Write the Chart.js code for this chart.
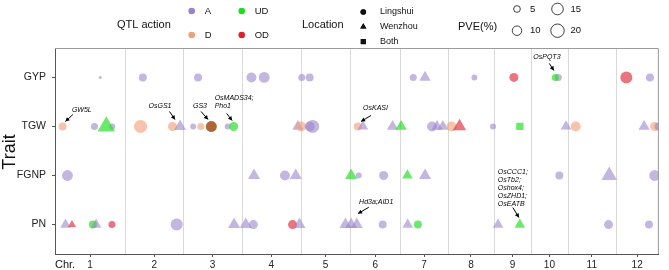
<!DOCTYPE html>
<html>
<head>
<meta charset="utf-8">
<script src="https://cdn.jsdelivr.net/npm/chart.js@4.4.1/dist/chart.umd.min.js"></script>
<style>
  html, body { margin: 0; padding: 0; background: #fff; }
</style>
</head>
<body>
<canvas id="graficoQtl" width="669" height="270"></canvas>
<script>
// Traits, de baixo para cima no eixo y
const traits = ['PN', 'FGNP', 'TGW', 'GYP'];

// Cromossomos e comprimentos (Mb)
const chrNames = ['1', '2', '3', '4', '5', '6', '7', '8', '9', '10', '11', '12'];
const chrLengths = [43.3, 36.0, 36.0, 36.6, 30.5, 31.1, 29.2, 28.7, 22.6, 23.1, 29.3, 26.8];

// Legendas
const actions = ['A', 'D', 'UD', 'OD'];
const locations = ['Lingshui', 'Wenzhou', 'Both'];
const pveKeys = [5, 10, 15, 20];

// QTLs: [cromossomo, posição (Mb), ação, local (L/W/B), PVE (%)]
const qtlGYP = [
  [1, 28.0, 'A', 'L', 1],
  [2, 11.0, 'A', 'L', 7],
  [3, 9.1, 'A', 'L', 7],
  [4, 6.1, 'A', 'L', 11],
  [4, 14.0, 'A', 'L', 13],
  [5, 0.6, 'A', 'L', 5.5],
  [5, 5.5, 'A', 'L', 7],
  [7, 7.9, 'A', 'L', 5.5],
  [7, 15.2, 'A', 'W', 8],
  [8, 16.5, 'A', 'L', 4],
  [9, 12.2, 'OD', 'L', 9],
  [10, 17.1, 'A', 'L', 5.5],
  [10, 15.2, 'UD', 'L', 5.5],
  [12, 6.7, 'OD', 'L', 16],
  [12, 21.3, 'A', 'L', 7]
];
const qtlTGW = [
  [1, 4.7, 'D', 'L', 7],
  [1, 24.4, 'A', 'L', 5.5],
  [1, 35.4, 'A', 'L', 4],
  [1, 31.7, 'UD', 'W', 19],
  [2, 9.6, 'D', 'L', 19],
  [2, 29.3, 'D', 'L', 9],
  [2, 34.0, 'A', 'W', 9],
  [3, 6.1, 'A', 'L', 4],
  [3, 10.8, 'D', 'L', 5.5],
  [3, 17.3, 'D', 'L', 13],
  [3, 17.3, 'UD', 'L', 13],
  [3, 17.3, 'OD', 'L', 13],
  [3, 27.4, 'A', 'L', 4],
  [3, 31.1, 'UD', 'L', 9],
  [4, 34.8, 'A', 'W', 8],
  [5, 0.2, 'D', 'L', 11],
  [5, 5.5, 'A', 'L', 11],
  [5, 7.3, 'A', 'L', 19],
  [6, 4.7, 'D', 'L', 7],
  [6, 7.9, 'A', 'W', 7],
  [6, 26.2, 'A', 'W', 8],
  [7, 0.4, 'UD', 'W', 8],
  [7, 19.5, 'A', 'L', 11],
  [7, 22.6, 'A', 'W', 8],
  [7, 26.2, 'A', 'W', 8],
  [8, 2.4, 'D', 'L', 11],
  [8, 7.3, 'OD', 'W', 11],
  [8, 28.0, 'A', 'L', 4],
  [9, 15.9, 'UD', 'B', 7],
  [10, 21.8, 'A', 'W', 7],
  [11, 4.7, 'D', 'L', 11],
  [12, 17.7, 'A', 'W', 8],
  [12, 24.2, 'D', 'L', 9],
  [12, 26.6, 'A', 'L', 7]
];
const qtlFGNP = [
  [1, 7.7, 'A', 'L', 13],
  [4, 7.7, 'A', 'W', 9],
  [4, 26.8, 'A', 'L', 11],
  [4, 33.5, 'A', 'W', 9],
  [6, 0.6, 'UD', 'W', 9],
  [6, 5.3, 'A', 'L', 4],
  [6, 20.7, 'A', 'L', 9],
  [7, 4.3, 'UD', 'W', 7],
  [7, 15.2, 'A', 'W', 9],
  [10, 17.7, 'A', 'L', 7],
  [11, 25.4, 'A', 'W', 15],
  [12, 24.2, 'A', 'L', 13]
];
const qtlPN = [
  [1, 6.5, 'A', 'W', 7],
  [1, 10.5, 'OD', 'W', 4],
  [1, 23.4, 'UD', 'L', 7],
  [1, 25.4, 'A', 'W', 7],
  [1, 35.2, 'OD', 'L', 5.5],
  [2, 31.9, 'A', 'L', 16],
  [3, 31.4, 'A', 'W', 9],
  [4, 2.6, 'A', 'W', 9],
  [4, 7.3, 'A', 'L', 9],
  [4, 31.5, 'OD', 'L', 9],
  [4, 35.8, 'A', 'W', 9],
  [5, 27.6, 'A', 'W', 9],
  [6, 0.6, 'A', 'W', 9],
  [6, 4.1, 'A', 'W', 9],
  [6, 20.1, 'A', 'L', 7],
  [7, 4.5, 'A', 'W', 7],
  [7, 10.8, 'UD', 'L', 7],
  [9, 2.4, 'A', 'W', 7],
  [9, 15.9, 'UD', 'W', 7],
  [11, 25.0, 'A', 'L', 9],
  [12, 20.7, 'A', 'L', 7]
];

// Genes candidatos anotados
const geneNotes = [
  { lines: ['GW5L'], trait: 'TGW', chr: 1, pos: 4.7 },
  { lines: ['OsGS1'], trait: 'TGW', chr: 2, pos: 29.3 },
  { lines: ['GS3'], trait: 'TGW', chr: 3, pos: 17.3 },
  { lines: ['OsMADS34;', 'Pho1'], trait: 'TGW', chr: 3, pos: 31.1 },
  { lines: ['OsKASI'], trait: 'TGW', chr: 6, pos: 4.7 },
  { lines: ['OsPQT3'], trait: 'GYP', chr: 10, pos: 15.2 },
  { lines: ['OsCCC1;', 'OsTb2;', 'Oshox4;', 'OsZHD1;', 'OsEATB'], trait: 'PN', chr: 9, pos: 15.9 },
  { lines: ['Hd3a;AID1'], trait: 'PN', chr: 6, pos: 4.1 }
];
// posição do texto e da seta em relação ao ponto (px)
const noteLayout = [
  { align: 'left', tx: 9.3, ty: -16, ax: 10.3, ay: -12, bx: 2.8, by: -5 },
  { align: 'right', tx: -1, ty: -20, ax: -3, ay: -15, bx: 2.5, by: -7 },
  { align: 'left', tx: -18.3, ty: -20, ax: -10.3, ay: -15, bx: -3.3, by: -7 },
  { align: 'left', tx: -19, ty: -28.7, ax: -7, ay: -13, bx: -1.5, by: -6 },
  { align: 'left', tx: 5.3, ty: -18, ax: 13.3, ay: -11, bx: 3.3, by: -5 },
  { align: 'left', tx: -22, ty: -20, ax: -6, ay: -14, bx: -1.5, by: -7 },
  { align: 'left', tx: -22, ty: -53, ax: -7, ay: -17, bx: -1, by: -7 },
  { align: 'left', tx: 2.3, ty: -22.3, ax: 12, ay: -17.3, bx: 1.3, by: -11 }
];

const fonte = '"Liberation Sans", Arial, sans-serif';
const corCheia = { A: 'rgb(152,130,202)', D: 'rgb(242,158,118)', UD: 'rgb(30,222,30)', OD: 'rgb(222,32,46)' };
const corPonto = { A: 'rgba(152,130,202,0.58)', D: 'rgba(242,158,118,0.62)', UD: 'rgba(30,222,30,0.66)', OD: 'rgba(222,32,46,0.62)' };
const formas = { L: 'circle', W: 'triangle', B: 'rect' };

// posições acumuladas dos cromossomos
const chrStarts = [];
chrLengths.reduce((acc, len) => { chrStarts.push(acc); return acc + len; }, 0);
const genomeLength = chrLengths.reduce((a, b) => a + b, 0);
const chrCenters = chrLengths.map((len, i) => chrStarts[i] + len / 2);

function raioCirculo(pve) { return 1.5 * Math.sqrt(pve); }
function raioPonto(q) {
  const base = raioCirculo(q[4]);
  if (q[3] === 'W') return base * 1.55;
  if (q[3] === 'B') return base * 1.3;
  return base;
}

function montarDataset(nome, lista) {
  const yv = traits.indexOf(nome) + 1;
  return {
    label: nome,
    data: lista.map(q => ({ x: chrStarts[q[0] - 1] + q[1], y: yv })),
    backgroundColor: lista.map(q => corPonto[q[2]]),
    pointStyle: lista.map(q => formas[q[3]]),
    pointRadius: lista.map(raioPonto),
    pointHoverRadius: lista.map(raioPonto),
    borderWidth: 0,
    pointBorderWidth: 0
  };
}

function seta(ctx, x1, y1, x2, y2) {
  ctx.beginPath();
  ctx.moveTo(x1, y1);
  ctx.lineTo(x2, y2);
  ctx.stroke();
  const ang = Math.atan2(y2 - y1, x2 - x1);
  const len = 4, larg = 2.2;
  ctx.beginPath();
  ctx.moveTo(x2, y2);
  ctx.lineTo(x2 - len * Math.cos(ang) + larg * Math.sin(ang), y2 - len * Math.sin(ang) - larg * Math.cos(ang));
  ctx.lineTo(x2 - len * Math.cos(ang) - larg * Math.sin(ang), y2 - len * Math.sin(ang) + larg * Math.cos(ang));
  ctx.closePath();
  ctx.fill();
}

const extras = {
  id: 'extras',
  beforeDatasetsDraw(chart) {
    const { ctx, chartArea: a, scales: { x } } = chart;
    ctx.save();
    ctx.strokeStyle = '#d9d9d9';
    ctx.lineWidth = 1;
    chrStarts.slice(1).forEach(b => {
      const px = Math.round(x.getPixelForValue(b)) + 0.5;
      ctx.beginPath();
      ctx.moveTo(px, a.top);
      ctx.lineTo(px, a.bottom);
      ctx.stroke();
    });
    ctx.restore();
  },
  afterDatasetsDraw(chart) {
    const { ctx, scales: { x, y } } = chart;
    ctx.save();
    ctx.strokeStyle = '#000';
    ctx.fillStyle = '#000';
    ctx.lineWidth = 1;
    ctx.font = 'italic 7px ' + fonte;
    ctx.textBaseline = 'middle';
    geneNotes.forEach((g, i) => {
      const l = noteLayout[i];
      const px = x.getPixelForValue(chrStarts[g.chr - 1] + g.pos);
      const py = y.getPixelForValue(traits.indexOf(g.trait) + 1);
      ctx.textAlign = l.align;
      g.lines.forEach((t, k) => ctx.fillText(t, px + l.tx, py + l.ty + k * 8));
      seta(ctx, px + l.ax, py + l.ay, px + l.bx, py + l.by);
    });
    ctx.restore();
  },
  afterDraw(chart) {
    const { ctx, chartArea: a } = chart;
    ctx.save();
    // moldura
    ctx.strokeStyle = '#9a9a9a';
    ctx.lineWidth = 1;
    ctx.beginPath();
    ctx.moveTo(a.left, a.top + 0.5);
    ctx.lineTo(a.right - 0.5, a.top + 0.5);
    ctx.lineTo(a.right - 0.5, a.bottom);
    ctx.stroke();

    // títulos dos eixos
    ctx.fillStyle = '#111';
    ctx.textBaseline = 'middle';
    ctx.textAlign = 'left';
    ctx.font = '11px ' + fonte;
    ctx.fillText('Chr.', a.left, 265);
    ctx.save();
    ctx.translate(10, 152);
    ctx.rotate(-Math.PI / 2);
    ctx.textAlign = 'center';
    ctx.font = '18px ' + fonte;
    ctx.fillText('Trait', 0, 0);
    ctx.restore();

    // legenda: títulos
    ctx.font = '11px ' + fonte;
    ctx.fillText('QTL action', 117, 25);
    ctx.fillText('Location', 302, 25);
    ctx.fillText('PVE(%)', 458, 27);

    ctx.font = '9.5px ' + fonte;
    actions.forEach((act, i) => {
      const cx = 191.7 + Math.floor(i / 2) * 50;
      const cy = 11 + (i % 2) * 24;
      ctx.fillStyle = corCheia[act];
      ctx.beginPath();
      ctx.arc(cx, cy, 3.3, 0, Math.PI * 2);
      ctx.fill();
      ctx.fillStyle = '#111';
      ctx.fillText(act, cx + 13, cy);
    });

    // legenda: Location
    ctx.font = '9px ' + fonte;
    locations.forEach((loc, i) => {
      const cy = 12 + i * 14.8;
      const forma = formas[['L', 'W', 'B'][i]];
      Chart.helpers.drawPoint(ctx, { pointStyle: forma, radius: forma === 'circle' ? 2.8 : 3.6, borderWidth: 0, rotation: 0 }, 363.3, cy);
      ctx.fillStyle = '#111';
      ctx.fill();
      ctx.fillText(loc, 380, cy);
    });

    // legenda: PVE
    ctx.font = '9.5px ' + fonte;
    ctx.strokeStyle = '#111';
    ctx.lineWidth = 0.8;
    pveKeys.forEach((p, i) => {
      const cx = 517 + Math.floor(i / 2) * 40.5;
      const cy = 9 + (i % 2) * 21.7;
      ctx.beginPath();
      ctx.arc(cx, cy, raioCirculo(p), 0, Math.PI * 2);
      ctx.stroke();
      ctx.fillStyle = '#111';
      ctx.fillText(String(p), cx + 13, cy);
    });
    ctx.restore();
  }
};

const contexto = document.getElementById('graficoQtl').getContext('2d');
const graficoQtl = new Chart(contexto, {
  type: 'scatter',
  data: {
    datasets: [
      montarDataset('GYP', qtlGYP),
      montarDataset('TGW', qtlTGW),
      montarDataset('FGNP', qtlFGNP),
      montarDataset('PN', qtlPN)
    ]
  },
  options: {
    responsive: false,
    animation: false,
    layout: { padding: { top: 48, right: 2, left: 0, bottom: 0 } },
    scales: {
      x: {
        type: 'linear',
        min: 0,
        max: genomeLength,
        afterFit: s => { s.height = 16; },
        afterBuildTicks: s => { s.ticks = chrCenters.map(v => ({ value: v })); },
        ticks: {
          autoSkip: false,
          maxRotation: 0,
          padding: 2,
          color: '#222',
          font: { family: fonte, size: 10 },
          callback: (v, i) => chrNames[i]
        },
        grid: { drawOnChartArea: false, drawTicks: true, tickLength: 3, color: '#555' },
        border: { display: true, color: '#555' }
      },
      y: {
        type: 'linear',
        min: 0.4,
        max: 4.6,
        afterFit: s => { s.width = 55; },
        afterBuildTicks: s => { s.ticks = traits.map((t, i) => ({ value: i + 1 })); },
        ticks: {
          padding: 6,
          color: '#222',
          font: { family: fonte, size: 10.5 },
          callback: v => traits[v - 1]
        },
        grid: { drawOnChartArea: false, drawTicks: true, tickLength: 3, color: '#555' },
        border: { display: true, color: '#555' }
      }
    },
    plugins: {
      legend: { display: false },
      tooltip: { enabled: false }
    }
  },
  plugins: [extras]
});
</script>
</body>
</html>
